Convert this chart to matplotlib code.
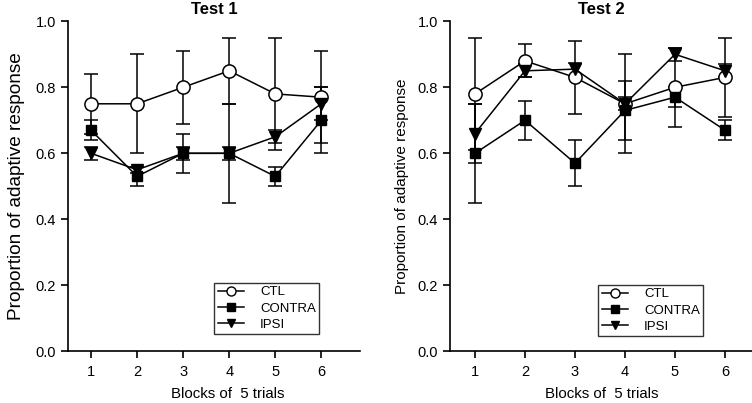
import matplotlib
matplotlib.use("Agg")
import matplotlib.pyplot as plt
from matplotlib.lines import Line2D

blocks = [1, 2, 3, 4, 5, 6]
series = ["CTL", "CONTRA", "IPSI"]

t1_ctl = [0.75, 0.75, 0.80, 0.85, 0.78, 0.77]
t1_ctl_err = [0.09, 0.15, 0.11, 0.10, 0.17, 0.14]
t1_contra = [0.67, 0.53, 0.60, 0.60, 0.53, 0.70]
t1_contra_err = [0.03, 0.03, 0.06, 0.15, 0.03, 0.10]
t1_ipsi = [0.60, 0.55, 0.60, 0.60, 0.65, 0.75]
t1_ipsi_err = [0.02, 0.01, 0.02, 0.02, 0.02, 0.05]

t2_ctl = [0.78, 0.88, 0.83, 0.75, 0.80, 0.83]
t2_ctl_err = [0.17, 0.05, 0.11, 0.15, 0.12, 0.12]
t2_contra = [0.60, 0.70, 0.57, 0.73, 0.77, 0.67]
t2_contra_err = [0.15, 0.06, 0.07, 0.09, 0.03, 0.03]
t2_ipsi = [0.66, 0.85, 0.855, 0.75, 0.90, 0.85]
t2_ipsi_err = [0.09, 0.02, 0.02, 0.02, 0.02, 0.02]

yticks = [0.0, 0.2, 0.4, 0.6, 0.8, 1.0]

plt.rcParams['font.family'] = ['Liberation Sans', 'DejaVu Sans']

fig = plt.figure(figsize=(7.52, 4.03), dpi=100)
ax1 = fig.add_axes([68/752, (403-351.3)/403, 292/752, 330/403])
ax2 = fig.add_axes([450/752, (403-351.3)/403, 302/752, 330/403])

styles = {
    "CTL": dict(marker='o', mfc='white', mec='black', ms=9.5, mew=1.1),
    "CONTRA": dict(marker='s', mfc='black', mec='black', ms=7.5),
    "IPSI": dict(marker='v', mfc='black', mec='black', ms=8),
}
leg_styles = {
    "CTL": dict(marker='o', mfc='white', mec='black', ms=6.5, mew=1.0),
    "CONTRA": dict(marker='s', mfc='black', mec='black', ms=5.5),
    "IPSI": dict(marker='v', mfc='black', mec='black', ms=6),
}

def draw(ax, data, title, xmax, ylabel_size, xlabel_x, leg_anchor, ylabelpad):
    for name, (vals, errs) in zip(series, data):
        ax.errorbar(blocks, vals, yerr=errs, color='black', lw=1.1,
                    capsize=4.7, capthick=1.1, elinewidth=1.1,
                    label=name, **styles[name], zorder=3)
    ax.set_xlim(0.5, xmax)
    ax.set_ylim(0, 1.0)
    ax.set_yticks(yticks)
    ax.set_yticklabels([f"{v:.1f}" for v in yticks])
    ax.set_xticks(blocks)
    ax.spines['top'].set_visible(False)
    ax.spines['right'].set_visible(False)
    for s in ['left', 'bottom']:
        ax.spines[s].set_linewidth(1.2)
    ax.tick_params(direction='out', length=5, width=1.2, labelsize=10.5)
    ax.tick_params(axis='x', pad=5)
    ax.set_title(title, fontsize=12, fontweight='bold', pad=5)
    ax.set_xlabel("Blocks of  5 trials", fontsize=10.8)
    ax.xaxis.set_label_coords(xlabel_x, -0.108)
    ax.set_ylabel("Proportion of adaptive response", fontsize=ylabel_size,
                  labelpad=ylabelpad)
    handles = [Line2D([0], [0], color='black', lw=1.1, **leg_styles[n]) for n in series]
    leg = ax.legend(handles, series, loc='lower right',
                    bbox_to_anchor=leg_anchor, frameon=True, fancybox=False,
                    edgecolor='black', fontsize=9.5, handlelength=2.0,
                    borderpad=0.25, labelspacing=0.3, handletextpad=1.2,
                    borderaxespad=0.0)
    leg.get_frame().set_linewidth(1.0)

draw(ax1, [(t1_ctl, t1_ctl_err), (t1_contra, t1_contra_err), (t1_ipsi, t1_ipsi_err)],
     "Test 1", 6.84, 13.7, 0.548, (0.86, 0.052), 8)
draw(ax2, [(t2_ctl, t2_ctl_err), (t2_contra, t2_contra_err), (t2_ipsi, t2_ipsi_err)],
     "Test 2", 6.54, 11, 0.503, (0.838, 0.046), 6)

fig.savefig("out.png", dpi=100)
